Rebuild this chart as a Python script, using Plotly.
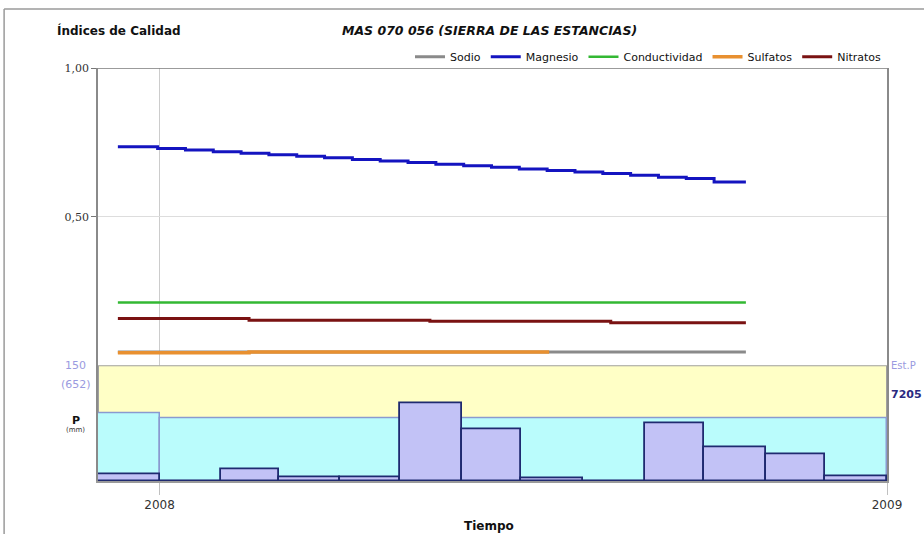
import pandas as pd
import plotly.graph_objects as go

# ---------------- data ----------------
months = ['2007-12-01', '2008-01-01', '2008-02-01', '2008-03-01', '2008-04-01',
          '2008-05-01', '2008-06-01', '2008-07-01', '2008-08-01', '2008-09-01',
          '2008-10-01', '2008-11-01', '2008-12-01']
precip_mm = [8, 0, 15, 4.5, 4.5, 101, 67, 4, 0, 75, 43, 34, 5.5]

band_start = ['2007-12-01', '2008-01-01']
band_end = ['2008-01-01', '2009-01-01']
band_level = [88, 81]
precip_max = 150
precip_mean = 652
station = '7205'

x_range = ['2007-12-01', '2009-01-01']
year_ticks = ['2008-01-01', '2009-01-01']
year_labels = ['2008', '2009']

mg_dates = ['2007-12-11', '2007-12-31', '2008-01-14', '2008-01-28', '2008-02-11',
            '2008-02-25', '2008-03-10', '2008-03-24', '2008-04-07', '2008-04-21',
            '2008-05-05', '2008-05-19', '2008-06-02', '2008-06-16', '2008-06-30',
            '2008-07-14', '2008-07-28', '2008-08-11', '2008-08-25', '2008-09-08',
            '2008-09-22', '2008-10-06', '2008-10-22']
mg_vals = [0.735, 0.729, 0.724, 0.718, 0.713, 0.708, 0.703, 0.698, 0.692, 0.687,
           0.682, 0.676, 0.671, 0.666, 0.660, 0.655, 0.650, 0.645, 0.639, 0.633,
           0.628, 0.617, 0.617]

cond_dates = ['2007-12-11', '2008-10-22']
cond_vals = [0.211, 0.211]

no3_dates = ['2007-12-11', '2008-02-15', '2008-05-16', '2008-08-15', '2008-10-22']
no3_vals = [0.158, 0.152, 0.148, 0.143, 0.143]

so4_dates = ['2007-12-11', '2008-02-15', '2008-07-15']
so4_vals = [0.042, 0.045, 0.045]

na_dates = ['2007-12-11', '2008-10-22']
na_vals = [0.045, 0.045]

y_ticks = [0.5, 1.0]
y_labels = ['0,50', '1,00']

# ---------------- figure ----------------
fig = go.Figure()

def month_width(starts, ends):
    return [(pd.Timestamp(e) - pd.Timestamp(s)).total_seconds() * 1000 for s, e in zip(starts, ends)]

# yellow band (up to precip_max)
fig.add_trace(go.Bar(
    x=[band_start[0]], y=[precip_max],
    width=month_width([band_start[0]], [band_end[-1]]), offset=0,
    marker=dict(color='#ffffc6', line=dict(color='#a0a0a0', width=2)),
    yaxis='y2', showlegend=False, hoverinfo='skip'))

# cyan band
fig.add_trace(go.Bar(
    x=band_start, y=band_level,
    width=month_width(band_start, band_end), offset=0,
    marker=dict(color='#bafcfc', line=dict(color='#8a9ad0', width=1.5)),
    yaxis='y2', showlegend=False, hoverinfo='skip'))

# monthly precipitation
month_ends = months[1:] + [x_range[1]]
fig.add_trace(go.Bar(
    x=months, y=precip_mm,
    width=month_width(months, month_ends), offset=0,
    marker=dict(color='#c2c2f6', line=dict(color='#1f2a70', width=1.8)),
    yaxis='y2', showlegend=False, name='P (mm)'))

# quality indices
fig.add_trace(go.Scatter(x=na_dates, y=na_vals, mode='lines', name='Sodio',
                         line=dict(color='#8a8a8a', width=3, shape='hv')))
fig.add_trace(go.Scatter(x=mg_dates, y=mg_vals, mode='lines', name='Magnesio',
                         line=dict(color='#1414c0', width=3, shape='hv')))
fig.add_trace(go.Scatter(x=cond_dates, y=cond_vals, mode='lines', name='Conductividad',
                         line=dict(color='#33b833', width=2.5, shape='hv')))
fig.add_trace(go.Scatter(x=so4_dates, y=so4_vals, mode='lines', name='Sulfatos',
                         line=dict(color='#e89030', width=3.5, shape='hv')))
fig.add_trace(go.Scatter(x=no3_dates, y=no3_vals, mode='lines', name='Nitratos',
                         line=dict(color='#7a1212', width=3, shape='hv')))

fig.update_layout(
    width=924, height=534,
    margin=dict(l=98, r=37, t=68, b=53),
    paper_bgcolor='white', plot_bgcolor='white',
    barmode='overlay', bargap=0,
    font=dict(family='DejaVu Sans', color='#222'),
    xaxis=dict(anchor='y2', range=x_range, tickvals=year_ticks, ticktext=year_labels,
               ticks='outside', ticklen=12, tickcolor='#c0c0c0',
               showgrid=True, gridcolor='#cccccc', gridwidth=1,
               showline=True, linecolor='#9a9a9a', linewidth=2,
               tickfont=dict(family='DejaVu Sans', size=12, color='#333')),
    yaxis=dict(domain=[0.28, 1], range=[0, 1], tickvals=y_ticks, ticktext=y_labels,
               ticks='outside', ticklen=5, tickcolor='#777',
               showgrid=True, gridcolor='#dddddd', zeroline=False,
               showline=True, linecolor='#8a8a8a', linewidth=1.5, mirror=True,
               tickfont=dict(family='DejaVu Serif', size=11, color='#333')),
    yaxis2=dict(domain=[0, 0.28], range=[0, precip_max], showticklabels=False,
                showgrid=False, zeroline=False, ticks='',
                showline=True, linecolor='#8a8a8a', linewidth=1.5, mirror=True),
    legend=dict(orientation='h', x=1.0, xanchor='right', y=1.027, yanchor='middle',
                font=dict(family='DejaVu Sans', size=11, color='#111'),
                itemwidth=30, bgcolor='rgba(0,0,0,0)', traceorder='normal'),
    shapes=[
        dict(type='line', xref='x domain', x0=0, x1=1, yref='y', y0=1, y1=1,
             line=dict(color='#7a7a7a', width=1.5)),
        dict(type='line', xref='paper', x0=-0.119, x1=1.06, yref='paper', y0=1.143, y1=1.143,
             line=dict(color='#9a9a9a', width=1.5)),
        dict(type='line', xref='paper', x0=-0.119, x1=-0.119, yref='paper', y0=-0.2, y1=1.143,
             line=dict(color='#9a9a9a', width=1.5)),
    ],
    annotations=[
        dict(text='<b>Índices de Calidad</b>', xref='paper', yref='paper',
             x=-0.055, y=1.092, xanchor='left', yanchor='middle', showarrow=False,
             font=dict(family='DejaVu Sans', size=12, color='#111')),
        dict(text='<b><i>MAS 070 056 (SIERRA DE LAS ESTANCIAS)</i></b>', xref='paper', yref='paper',
             x=0.496, y=1.09, xanchor='center', yanchor='middle', showarrow=False,
             font=dict(family='DejaVu Sans', size=12.5, color='#111')),
        dict(text='<b>Tiempo</b>', xref='paper', yref='paper',
             x=0.496, y=-0.108, xanchor='center', yanchor='middle', showarrow=False,
             font=dict(family='DejaVu Sans', size=12, color='#111')),
        dict(text=str(precip_max), xref='paper', yref='y2', x=-0.028, y=precip_max,
             xanchor='center', yanchor='middle', showarrow=False,
             font=dict(family='DejaVu Sans', size=11, color='#9a9ae0')),
        dict(text='(%d)' % precip_mean, xref='paper', yref='y2', x=-0.028, y=precip_max,
             yshift=-19, xanchor='center', yanchor='middle', showarrow=False,
             font=dict(family='DejaVu Sans', size=11, color='#9a9ae0')),
        dict(text='<b>P</b>', xref='paper', yref='y2', x=-0.028, y=precip_max,
             yshift=-55, xanchor='center', yanchor='middle', showarrow=False,
             font=dict(family='DejaVu Sans', size=11, color='#111')),
        dict(text='(mm)', xref='paper', yref='y2', x=-0.028, y=precip_max,
             yshift=-65, xanchor='center', yanchor='middle', showarrow=False,
             font=dict(family='DejaVu Sans', size=7, color='#333')),
        dict(text='Est.P', xref='paper', yref='y2', x=1.003, y=precip_max,
             xanchor='left', yanchor='middle', showarrow=False,
             font=dict(family='DejaVu Sans', size=10, color='#9a9ae0')),
        dict(text='<b>%s</b>' % station, xref='paper', yref='y2', x=1.003, y=precip_max,
             yshift=-29, xanchor='left', yanchor='middle', showarrow=False,
             font=dict(family='DejaVu Sans', size=11, color='#2a2a80')),
    ],
)

fig.write_html('out.html', config={'displayModeBar': False},
               post_script="document.body.style.margin='0';document.body.style.overflow='hidden';")
